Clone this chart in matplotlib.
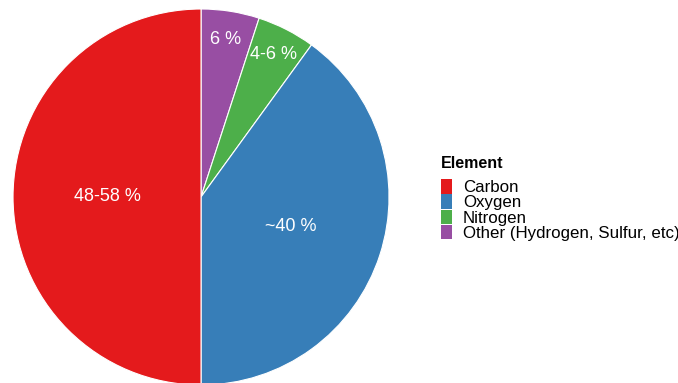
import numpy as np
import matplotlib.pyplot as plt
from matplotlib.patches import Rectangle

plt.rcParams['font.family'] = ['Liberation Sans', 'DejaVu Sans']

# Data (clockwise from 12 o'clock)
elements = ['Other (Hydrogen, Sulfur, etc)', 'Nitrogen', 'Oxygen', 'Carbon']
shares = [5, 5, 40, 50]
labels = ['6 %', '4-6 %', '~40 %', '48-58 %']
colors = ['#984EA3', '#4DAF4A', '#377EB8', '#E41A1C']
legend_order = ['Carbon', 'Oxygen', 'Nitrogen', 'Other (Hydrogen, Sulfur, etc)']

W, H = 678, 383
fig = plt.figure(figsize=(W / 100, H / 100), dpi=100)
ax = fig.add_axes([0.0192, -0.0052, 0.5546, 0.9817])

wedges, _ = ax.pie(shares, colors=colors, startangle=90, counterclock=False,
                   wedgeprops=dict(edgecolor='white', linewidth=0.8))
ax.set_xlim(-1, 1)
ax.set_ylim(-1, 1)
ax.axis('off')

# Slice labels, small slices placed further out
for w, lab, s in zip(wedges, labels, shares):
    mid = np.deg2rad((w.theta1 + w.theta2) / 2)
    r = 0.5 if s > 10 else 0.85
    ax.text(r * np.cos(mid), r * np.sin(mid), lab, color='white',
            fontsize=13, ha='center', va='center')

# Legend, drawn by hand in pixel units (from top-left)
def fy(y):
    return 1 - y / H

fig.text(441 / W, fy(164), 'Element', fontsize=11.5, fontweight='bold',
         ha='left', va='center')
for i, name in enumerate(legend_order):
    yc = 186.5 + 15.2 * i
    c = colors[elements.index(name)]
    fig.patches.append(Rectangle((441 / W, fy(yc + 7.3)), 10.5 / W, 14.6 / H,
                                 transform=fig.transFigure, facecolor=c,
                                 edgecolor='none'))
    fig.text(463 / W, fy(yc + 5.8), name, fontsize=12.2, ha='left',
             va='baseline')

fig.savefig('out.png', dpi=100)
